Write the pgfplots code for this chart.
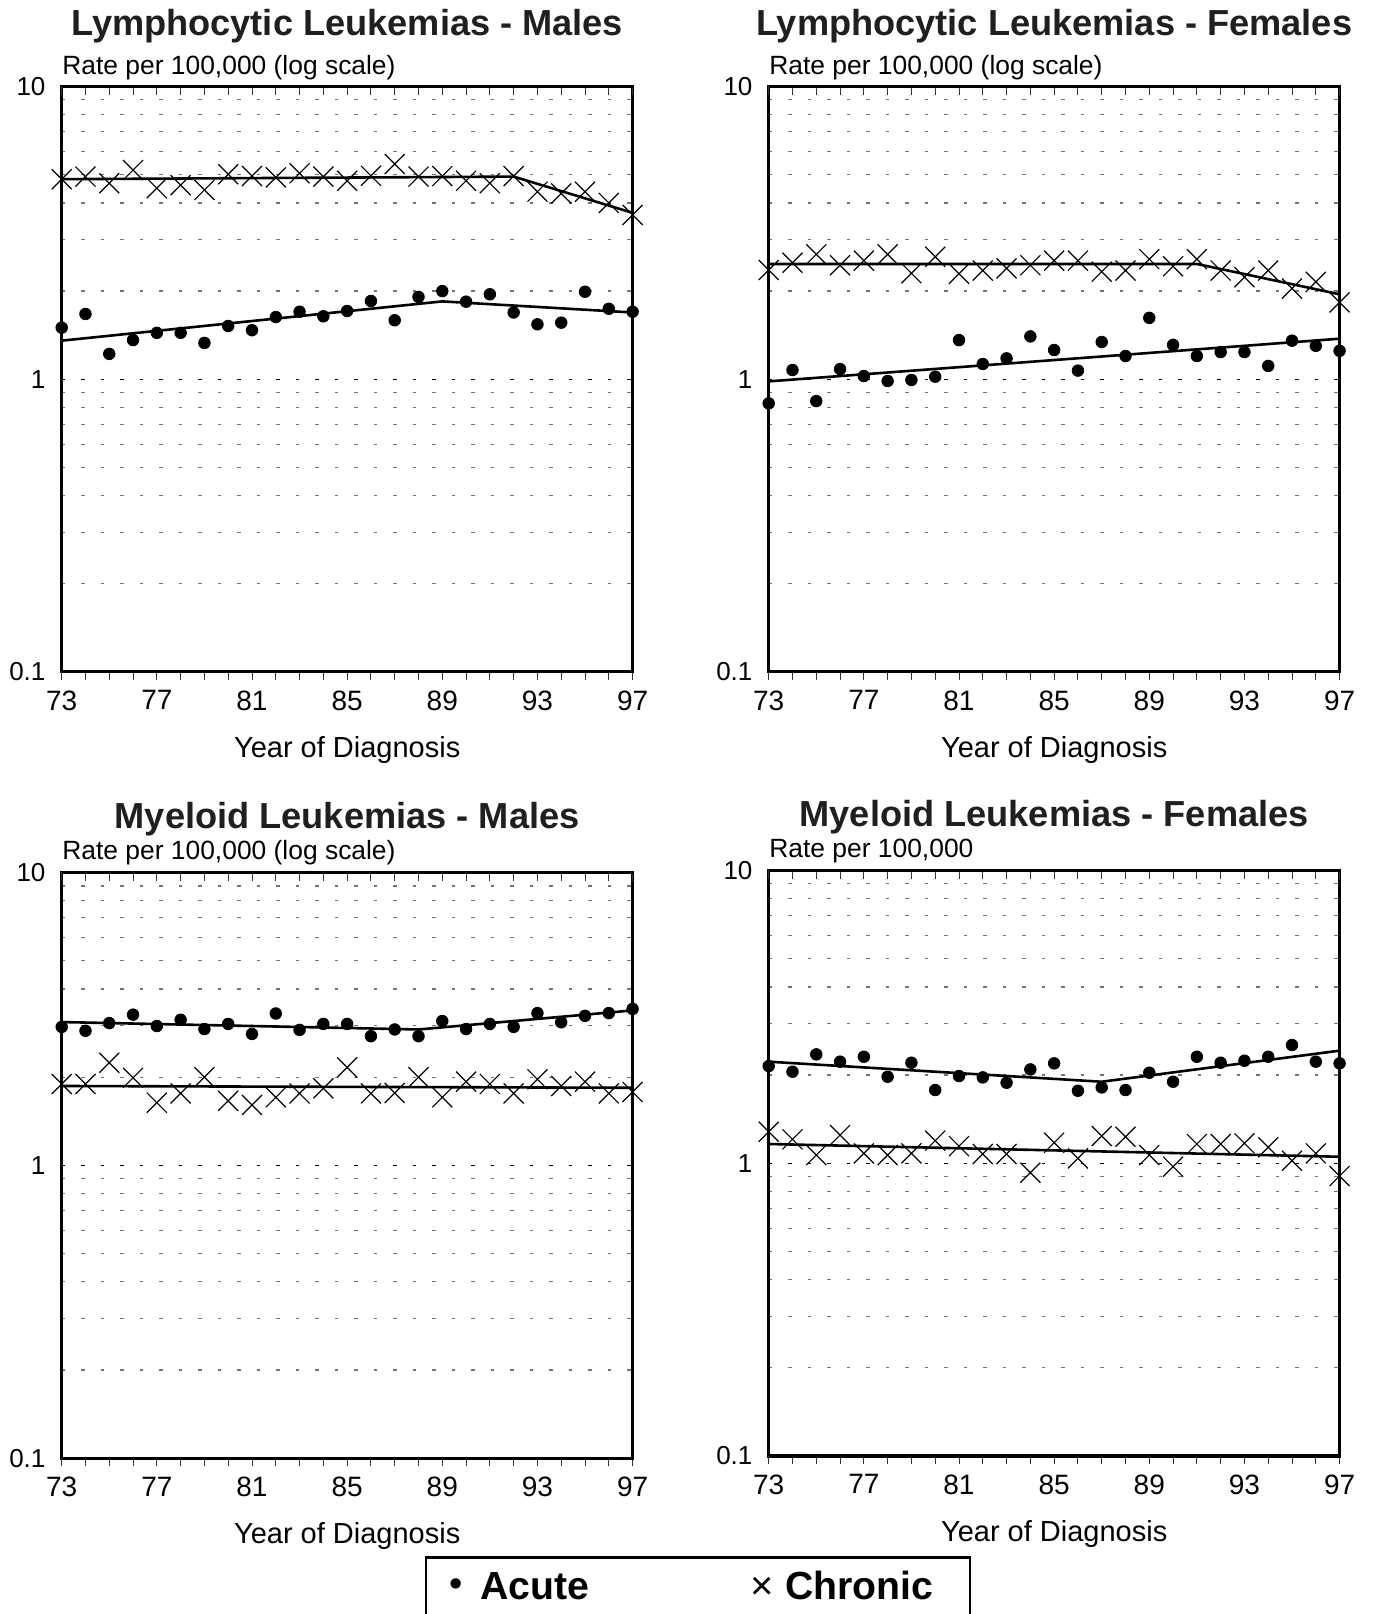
\documentclass[border=0pt]{standalone}
\usepackage{pgfplots}
\pgfplotsset{compat=1.18}
\usepackage{fontspec}
\setmainfont{Liberation Sans}
\pgfplotsset{
  lkpanel/.style={
    scale only axis, width=285.45pt, height=292.8pt, anchor=south west,
    xmin=73, xmax=97, ymin=0.1, ymax=10, clip=false,
    axis line style={line width=1.5pt},
    xtick={73,...,97},
    xticklabels={73,,,,77,,,,81,,,,85,,,,89,,,,93,,,,97},
    ytick={0.1,1,10}, yticklabels={0.1,1,10},
    minor ytick={0.2,0.3,0.4,0.5,0.6,0.7,0.8,0.9,2,3,4,5,6,7,8,9},
    tick style={draw=none}, tick align=inside,
    ymajorgrids, yminorgrids,
    major grid style={black, line width=0.7pt, dash pattern=on 1.75pt off 8pt},
    minor grid style={black!55, line width=0.6pt, dash pattern=on 1.75pt off 8pt},
    xticklabel style={font=\fontsize{14}{15}\selectfont, yshift=-5.8pt},
    yticklabel style={font=\fontsize{13}{14}\selectfont, xshift=-4.6pt},
  },
  lktickbase/.style={
    scale only axis, width=285.45pt, height=292.8pt, anchor=south west,
    xmin=73, xmax=97, ymin=0, ymax=1, hide y axis,
    xtick={73,...,97}, xticklabels={}, major tick length=4.2pt,
    tick style={black!80, line width=0.5pt},
    axis line style={line width=1.5pt},
  },
  lkbottom/.style={lktickbase, axis x line*=bottom, tick align=outside},
  lktop/.style={lktickbase, axis x line*=top, tick align=inside},
}
\tikzset{
  lkdots/.style={only marks, mark=*, mark size=2.9pt, mark options={fill=black, draw=none}},
  lkcross/.style={only marks, mark=x, mark size=7.07pt, mark options={black, line width=0.6pt}},
  lkfit/.style={no marks, black, line width=1.3pt},
}
\newcommand{\titlefont}{\fontsize{18.1}{20}\selectfont\bfseries\color{black!88}}
\newcommand{\ratefont}{\fontsize{13.2}{15}\selectfont}
\newcommand{\yearfont}{\fontsize{14.5}{16}\selectfont}
\begin{document}
\begin{tikzpicture}
\useasboundingbox (0pt,0pt) rectangle (687.5pt,807pt);

% ---------- Panel 1: Lymphocytic Males ----------
\begin{axis}[ymode=log, lkpanel, at={(30.85pt,471pt)}]
\addplot[lkcross] coordinates {(73,4.82)(74,4.92)(75,4.67)(76,5.18)(77,4.49)(78,4.60)(79,4.43)(80,5.01)(81,4.94)(82,4.89)(83,5.05)(84,4.92)(85,4.76)(86,4.95)(87,5.43)(88,4.92)(89,4.94)(90,4.76)(91,4.67)(92,4.94)(93,4.37)(94,4.31)(95,4.37)(96,4.00)(97,3.64)};
\addplot[lkfit] coordinates {(73,4.82)(92,4.92)(97,3.70)};
\addplot[lkdots] coordinates {(73,1.50)(74,1.67)(75,1.22)(76,1.36)(77,1.44)(78,1.44)(79,1.33)(80,1.52)(81,1.47)(82,1.63)(83,1.70)(84,1.64)(85,1.71)(86,1.85)(87,1.59)(88,1.91)(89,2.00)(90,1.84)(91,1.95)(92,1.69)(93,1.54)(94,1.56)(95,1.99)(96,1.74)(97,1.70)};
\addplot[lkfit] coordinates {(73,1.354)(89,1.844)(97,1.69)};
\end{axis}
\begin{axis}[lkbottom, at={(30.85pt,471pt)}]\end{axis}
\begin{axis}[lktop, at={(30.85pt,471pt)}]\end{axis}

% ---------- Panel 2: Lymphocytic Females ----------
\begin{axis}[ymode=log, lkpanel, at={(384.35pt,471pt)}]
\addplot[lkcross] coordinates {(73,2.36)(74,2.50)(75,2.67)(76,2.45)(77,2.54)(78,2.67)(79,2.30)(80,2.62)(81,2.29)(82,2.35)(83,2.39)(84,2.45)(85,2.54)(86,2.54)(87,2.33)(88,2.35)(89,2.57)(90,2.43)(91,2.57)(92,2.35)(93,2.23)(94,2.35)(95,2.04)(96,2.15)(97,1.83)};
\addplot[lkfit] coordinates {(73,2.475)(91,2.475)(97,1.95)};
\addplot[lkdots] coordinates {(73,0.827)(74,1.075)(75,0.842)(76,1.083)(77,1.025)(78,0.986)(79,0.994)(80,1.02)(81,1.36)(82,1.127)(83,1.178)(84,1.40)(85,1.258)(86,1.07)(87,1.34)(88,1.20)(89,1.62)(90,1.31)(91,1.20)(92,1.238)(93,1.238)(94,1.11)(95,1.354)(96,1.30)(97,1.25)};
\addplot[lkfit] coordinates {(73,0.983)(97,1.375)};
\end{axis}
\begin{axis}[lkbottom, at={(384.35pt,471pt)}]\end{axis}
\begin{axis}[lktop, at={(384.35pt,471pt)}]\end{axis}

% ---------- Panel 3: Myeloid Males ----------
\begin{axis}[ymode=log, lkpanel, at={(30.85pt,77.95pt)}]
\addplot[lkcross] coordinates {(73,1.896)(74,1.896)(75,2.24)(76,1.99)(77,1.636)(78,1.76)(79,2.00)(80,1.66)(81,1.607)(82,1.707)(83,1.76)(84,1.832)(85,2.16)(86,1.76)(87,1.766)(88,2.00)(89,1.707)(90,1.931)(91,1.896)(92,1.76)(93,1.967)(94,1.866)(95,1.931)(96,1.76)(97,1.78)};
\addplot[lkfit] coordinates {(73,1.866)(97,1.84)};
\addplot[lkdots] coordinates {(73,2.97)(74,2.88)(75,3.06)(76,3.27)(77,2.99)(78,3.14)(79,2.92)(80,3.04)(81,2.81)(82,3.30)(83,2.90)(84,3.04)(85,3.04)(86,2.76)(87,2.91)(88,2.76)(89,3.11)(90,2.92)(91,3.04)(92,2.97)(93,3.31)(94,3.08)(95,3.24)(96,3.31)(97,3.42)};
\addplot[lkfit] coordinates {(73,3.085)(88,2.91)(97,3.38)};
\end{axis}
\begin{axis}[lkbottom, at={(30.85pt,77.95pt)}]\end{axis}
\begin{axis}[lktop, at={(30.85pt,77.95pt)}]\end{axis}

% ---------- Panel 4: Myeloid Females ----------
\begin{axis}[ymode=log, lkpanel, at={(384.35pt,79pt)}]
\addplot[lkcross] coordinates {(73,1.281)(74,1.206)(75,1.066)(76,1.248)(77,1.08)(78,1.066)(79,1.08)(80,1.194)(81,1.144)(82,1.075)(83,1.075)(84,0.928)(85,1.175)(86,1.039)(87,1.238)(88,1.232)(89,1.066)(90,0.973)(91,1.163)(92,1.163)(93,1.169)(94,1.133)(95,1.02)(96,1.08)(97,0.904)};
\addplot[lkfit] coordinates {(73,1.163)(97,1.052)};
\addplot[lkdots] coordinates {(73,2.147)(74,2.053)(75,2.353)(76,2.222)(77,2.31)(78,1.974)(79,2.204)(80,1.778)(81,1.985)(82,1.964)(83,1.883)(84,2.091)(85,2.193)(86,1.768)(87,1.815)(88,1.778)(89,2.037)(90,1.898)(91,2.31)(92,2.204)(93,2.239)(94,2.31)(95,2.532)(96,2.222)(97,2.193)};
\addplot[lkfit] coordinates {(73,2.222)(87,1.898)(97,2.423)};
\end{axis}
\begin{axis}[lkbottom, at={(384.35pt,79pt)}]\end{axis}
\begin{axis}[lktop, at={(384.35pt,79pt)}]\end{axis}

% ---------- Titles and labels ----------
\node[anchor=base, inner sep=0] at (173.6pt,789pt) {\titlefont Lymphocytic Leukemias - Males};
\node[anchor=base, inner sep=0] at (527.1pt,789pt) {\titlefont Lymphocytic Leukemias - Females};
\node[anchor=base, inner sep=0] at (173.6pt,392.5pt) {\titlefont Myeloid Leukemias - Males};
\node[anchor=base, inner sep=0] at (527.1pt,393.75pt) {\titlefont Myeloid Leukemias - Females};

\node[anchor=base west, inner sep=0] at (31pt,769.5pt) {\ratefont Rate per 100,000 (log scale)};
\node[anchor=base west, inner sep=0] at (384.5pt,769.5pt) {\ratefont Rate per 100,000 (log scale)};
\node[anchor=base west, inner sep=0] at (31pt,377pt) {\ratefont Rate per 100,000 (log scale)};
\node[anchor=base west, inner sep=0] at (384.5pt,378.25pt) {\ratefont Rate per 100,000};

\node[anchor=base, inner sep=0] at (173.6pt,428.2pt) {\yearfont Year of Diagnosis};
\node[anchor=base, inner sep=0] at (527.1pt,428.2pt) {\yearfont Year of Diagnosis};
\node[anchor=base, inner sep=0] at (173.6pt,35.25pt) {\yearfont Year of Diagnosis};
\node[anchor=base, inner sep=0] at (527.1pt,36.25pt) {\yearfont Year of Diagnosis};

% ---------- Legend ----------
\draw[line width=1.2pt] (213pt,-5pt) -- (213pt,28.15pt) -- (485pt,28.15pt) -- (485pt,-5pt);
\node[inner sep=0] at (228pt,13pt) {\fontsize{19}{19}\selectfont\textbullet};
\node[anchor=base west, inner sep=0] at (240pt,7pt) {\fontsize{19.6}{20}\selectfont\bfseries Acute};
\node[inner sep=0] at (381pt,13pt) {\fontsize{20}{20}\selectfont ×};
\node[anchor=base west, inner sep=0] at (392.3pt,7pt) {\fontsize{19.6}{20}\selectfont\bfseries Chronic};
\end{tikzpicture}
\end{document}
